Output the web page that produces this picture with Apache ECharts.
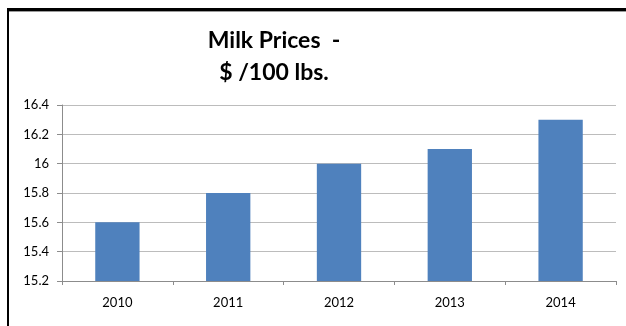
<!DOCTYPE html>
<html>
<head>
<meta charset="utf-8">
<script src="https://cdn.jsdelivr.net/npm/echarts@6/dist/echarts.min.js"></script>
<style>html,body{margin:0;padding:0;background:#fff}#c{width:626px;height:326px}</style>
</head>
<body>
<div id="c"></div>
<script>
const categories = ['2010', '2011', '2012', '2013', '2014'];
const prices = [15.6, 15.8, 16.0, 16.1, 16.3];
const yTicks = { min: 15.2, max: 16.4, interval: 0.2 };

const chart = echarts.init(document.getElementById('c'), null, { renderer: 'canvas' });
chart.setOption({
  animation: false,
  backgroundColor: '#ffffff',
  title: {
    text: 'Milk Prices  -\n$ /100 lbs.',
    left: 269,
    top: 20,
    textAlign: 'center',
    textStyle: { fontFamily: 'Lato', fontWeight: 'bold', fontSize: 23, color: '#000', lineHeight: 32 }
  },
  grid: { left: 62, right: 10, top: 105, bottom: 45 },
  xAxis: {
    type: 'category',
    data: categories,
    axisLine: { lineStyle: { color: '#8c8c8c', width: 1 } },
    axisTick: { show: true, length: 4, lineStyle: { color: '#8c8c8c' } },
    axisLabel: { fontFamily: 'Lato', fontSize: 13, color: '#000', margin: 15 }
  },
  yAxis: {
    type: 'value',
    min: yTicks.min, max: yTicks.max, interval: yTicks.interval,
    axisLine: { show: true, lineStyle: { color: '#8c8c8c', width: 1 } },
    axisTick: { show: true, length: 5, lineStyle: { color: '#8c8c8c' } },
    axisLabel: { fontFamily: 'Lato', fontSize: 13, color: '#000', margin: 13,
      formatter: v => String(Math.round(v * 10) / 10) },
    splitLine: { show: true, lineStyle: { color: '#bcbcbc', width: 1 } }
  },
  series: [{
    type: 'bar',
    data: prices,
    barWidth: '40%',
    itemStyle: { color: '#4f81bd' }
  }],
  graphic: [
    { type: 'rect', shape: { x: 7, y: 8, width: 619, height: 3 }, style: { fill: '#000' }, silent: true },
    { type: 'rect', shape: { x: 7, y: 11, width: 619, height: 1 }, style: { fill: '#9a9a9a' }, silent: true },
    { type: 'rect', shape: { x: 7, y: 8, width: 2, height: 318 }, style: { fill: '#000' }, silent: true }
  ]
});
</script>
</body>
</html>
